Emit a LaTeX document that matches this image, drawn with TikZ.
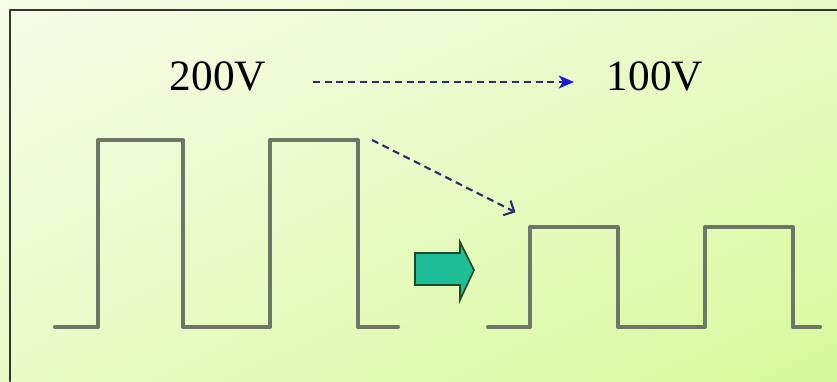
\documentclass[tikz,border=0pt]{standalone}
\usepackage{fontspec}
\setmainfont{Liberation Serif}
\usetikzlibrary{arrows.meta,shadings}
\definecolor{bgpale}{HTML}{F6FDE8}
\definecolor{bgmid}{HTML}{E8FBC6}
\definecolor{bggreen}{HTML}{D8F99C}
\definecolor{framegray}{HTML}{2F372F}
\definecolor{wavegray}{HTML}{6E7668}
\definecolor{dashnavy}{HTML}{28306A}
\definecolor{tipblue}{HTML}{1A1AE0}
\definecolor{pushgreen}{HTML}{1EBE96}
\definecolor{pushedge}{HTML}{1E4A2C}
\begin{document}
\begin{tikzpicture}[x=0.03cm, y=-0.03cm, line cap=round, line join=round, >=stealth]
	\tikzset{wave/.style={draw=wavegray, line width=3.5pt},
		volt/.style={font=\fontsize{37}{40}\selectfont, inner sep=0pt},
		dasharrow/.style={draw=dashnavy, line width=1.8pt, line cap=butt, dash pattern=on 6pt off 4pt}}
	\useasboundingbox (0,0) rectangle (837,381);
	\shade[upper left=bgpale, upper right=bgmid, lower left=bgmid, lower right=bggreen] (0,0) rectangle (837,381);
	\draw[framegray, line width=1.9pt] (10,381) -- (10,10) -- (837,10);
	% input pulses, 200V
	\draw[wave] (55,327) -- (98,327) -- (98,140) -- (183,140) -- (183,327) -- (270,327)
		-- (270,140) -- (358,140) coordinate (hiend) -- (358,327) -- (398,327);
	% output pulses, 100V
	\draw[wave] (488,327) -- (530,327) -- (530,227) coordinate (lostart) -- (618,227) -- (618,327)
		-- (705,327) -- (705,227) -- (793,227) -- (793,327) -- (820,327);
	\node[volt] (v200) at (218,76) {200V};
	\node[volt] (v100) at (655,76) {100V};
	\coordinate (h1) at (313,82);
	\coordinate (h2) at (574,82);
	\draw[dasharrow, -{Stealth[length=13pt, width=11pt, inset=3.5pt, color=tipblue, line cap=round]}] (h1) -- (h2);
	\draw[dasharrow, -{Straight Barb[length=7pt, width=14pt, color=dashnavy, line width=1.8pt, sep]}]
		([xshift=14*0.03cm]hiend) -- ([shift={(-13,-14)}]lostart);
	% green push arrow
	\draw[pushedge, fill=pushgreen, line width=1.4pt, line cap=butt, line join=miter]
		(415,253) -- (460,253) -- (460,242) -- (474,270) -- (460,300) -- (460,285) -- (415,285) -- cycle;
\end{tikzpicture}
\end{document}
